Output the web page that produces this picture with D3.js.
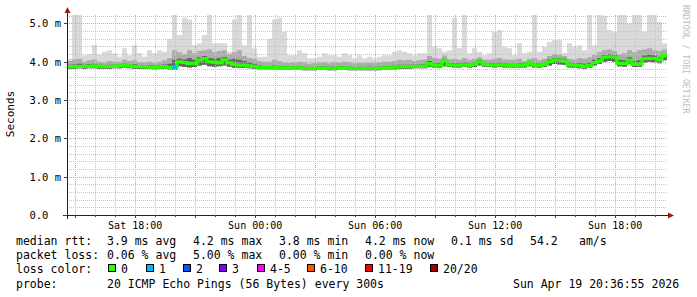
<!DOCTYPE html>
<html><head><meta charset="utf-8">
<script src="https://cdn.jsdelivr.net/npm/d3@7"></script>
<style>
body{margin:0;background:#fff;}
text{font-family:"DejaVu Sans Mono",monospace;}
</style></head>
<body><svg id="c" width="697" height="297"></svg>
<script>
// ---- data (15-minute steps from start time) ----
const startTime = Date.UTC(2026,3,18,14,36,55);
const endTime = Date.UTC(2026,3,19,20,36,55);
const stepMinutes = 15;
// median rtt (ms)
const median = [3.87,3.87,3.88,3.88,3.88,3.89,3.88,3.87,3.87,3.88,
 3.89,3.9,3.89,3.88,3.87,3.87,3.86,3.85,3.86,3.87,
 3.85,3.86,4.0,3.98,3.96,3.96,4.04,4.08,4.0,3.99,
 3.97,4.05,3.97,3.93,3.91,3.91,3.89,3.88,3.85,3.85,
 3.85,3.85,3.84,3.84,3.84,3.84,3.84,3.83,3.83,3.83,
 3.84,3.84,3.83,3.83,3.84,3.84,3.83,3.83,3.83,3.83,
 3.83,3.83,3.83,3.84,3.84,3.86,3.87,3.87,3.87,3.88,
 3.88,3.88,3.95,3.91,3.9,4.03,3.92,3.91,3.91,3.92,
 3.91,3.93,4.0,3.93,3.92,3.91,3.92,3.91,3.9,3.9,
 3.91,3.91,3.95,3.91,3.9,3.93,4.0,4.04,4.04,4.02,
 3.92,3.91,3.9,3.88,3.9,3.98,4.02,4.12,4.13,4.12,
 3.96,3.95,4.04,3.93,3.94,4.08,4.09,4.09,4.05,4.16];
// lost pings (of 20) per step
const loss = [0,0,0,0,0,0,0,0,0,0, 0,0,0,0,0,0,0,0,0,0,
 0,1,0,0,0,0,0,0,0,0, 0,0,0,0,0,0,0,0,0,0,
 0,0,0,0,0,0,0,0,0,0, 0,0,0,0,0,0,0,0,0,0,
 0,0,0,0,0,0,0,0,0,0, 0,0,0,0,0,0,0,0,0,0,
 0,0,0,0,0,0,0,0,0,0, 0,0,0,0,0,0,0,0,0,0,
 0,0,0,0,0,0,0,0,0,0, 0,0,0,0,0,0,0,0,0,0];
// smoke: max rtt
const smokeMax = [4.08,5.3,5.3,4.17,4.2,4.44,4.18,4.26,4.3,4.22,
 4.13,4.35,4.17,4.43,4.22,4.13,4.3,4.22,4.3,4.26,
 4.6,5.3,4.7,5.15,5.1,4.43,4.48,4.7,5.3,4.48,
 4.48,4.48,4.26,5.1,5.3,4.43,5.3,4.35,4.13,4.13,
 4.6,5.1,5.15,4.78,4.17,4.17,4.3,4.22,4.09,4.09,
 4.13,4.22,4.17,4.17,4.13,4.22,4.17,4.09,4.17,4.09,
 4.13,4.09,4.13,4.17,4.17,4.26,4.3,4.26,4.22,4.17,
 4.22,4.22,5.3,4.39,4.35,4.26,4.3,5.15,4.35,5.3,
 4.22,4.35,4.26,4.17,4.22,4.78,4.83,4.39,4.35,4.17,
 4.48,4.22,4.26,5.3,4.26,4.39,4.52,4.57,4.57,4.22,
 4.48,4.39,4.43,4.3,5.3,4.43,5.25,5.2,4.83,4.78,
 5.3,5.3,5.0,5.3,5.3,4.78,5.3,5.25,5.04,4.48];
// smoke: upper of medium band
const smokeMid = [4.02,4.06,4.08,4.0,4.04,4.06,4.0,3.98,4.02,4.0,
 4.0,4.06,4.02,4.04,3.98,3.98,4.0,3.97,4.0,4.04,
 4.1,4.3,4.25,4.2,4.3,4.22,4.28,4.3,4.32,4.25,
 4.28,4.3,4.2,4.25,4.3,4.15,4.1,4.08,4.02,4.0,
 4.0,4.05,4.02,3.98,3.97,3.98,4.0,3.98,3.95,3.96,
 3.98,3.99,3.96,3.98,3.97,4.0,3.98,3.96,3.97,3.96,
 3.97,3.96,3.98,4.0,4.0,4.02,4.05,4.04,4.05,4.02,
 4.04,4.06,4.15,4.1,4.08,4.16,4.06,4.08,4.05,4.1,
 4.05,4.08,4.12,4.06,4.05,4.08,4.1,4.06,4.05,4.05,
 4.08,4.02,4.08,4.1,4.04,4.08,4.15,4.2,4.18,4.15,
 4.08,4.06,4.1,4.08,4.12,4.18,4.25,4.3,4.32,4.28,
 4.2,4.22,4.3,4.25,4.3,4.32,4.35,4.3,4.28,4.32];
// smoke: upper of dark core
const smokeCore = [3.92,3.93,3.95,3.92,3.94,3.95,3.92,3.91,3.92,3.92,
 3.93,3.95,3.93,3.94,3.91,3.91,3.91,3.9,3.91,3.93,
 3.95,4.05,4.08,4.06,4.1,4.05,4.12,4.15,4.1,4.08,
 4.1,4.12,4.06,4.08,4.05,4.02,3.98,3.95,3.9,3.89,
 3.89,3.9,3.88,3.88,3.87,3.88,3.88,3.87,3.86,3.86,
 3.88,3.88,3.87,3.87,3.88,3.88,3.87,3.86,3.87,3.86,
 3.87,3.86,3.87,3.88,3.88,3.9,3.92,3.92,3.92,3.92,
 3.93,3.93,4.02,3.97,3.96,4.08,3.97,3.97,3.96,3.98,
 3.96,3.98,4.05,3.98,3.97,3.97,3.98,3.96,3.95,3.95,
 3.96,3.96,4.0,3.97,3.95,3.98,4.06,4.1,4.1,4.08,
 3.98,3.97,3.96,3.95,3.97,4.05,4.1,4.18,4.2,4.18,
 4.05,4.04,4.12,4.02,4.04,4.16,4.18,4.17,4.12,4.2];
// smoke: min rtt
const smokeMin = [3.82,3.82,3.83,3.82,3.83,3.83,3.82,3.82,3.82,3.83,
 3.83,3.84,3.83,3.82,3.82,3.82,3.81,3.8,3.81,3.82,
 3.8,3.79,3.88,3.86,3.85,3.86,3.9,3.92,3.88,3.87,
 3.88,3.9,3.87,3.84,3.84,3.84,3.83,3.82,3.8,3.8,
 3.8,3.8,3.79,3.79,3.79,3.79,3.79,3.78,3.78,3.78,
 3.79,3.79,3.78,3.78,3.79,3.79,3.78,3.78,3.78,3.78,
 3.78,3.78,3.78,3.79,3.79,3.8,3.82,3.82,3.82,3.83,
 3.83,3.83,3.86,3.85,3.84,3.88,3.86,3.85,3.85,3.86,
 3.85,3.86,3.9,3.87,3.86,3.85,3.86,3.85,3.85,3.84,
 3.85,3.85,3.88,3.85,3.84,3.86,3.9,3.94,3.93,3.92,
 3.85,3.84,3.83,3.82,3.84,3.9,3.94,4.0,4.02,4.0,
 3.88,3.87,3.95,3.86,3.87,3.98,4.0,3.99,3.96,4.04];

const yTicks = [0,1,2,3,4,5];
const yTickLabels = ["0.0  ","1.0 m","2.0 m","3.0 m","4.0 m","5.0 m"];
const xTickTimes = [Date.UTC(2026,3,18,18), Date.UTC(2026,3,19,0), Date.UTC(2026,3,19,6), Date.UTC(2026,3,19,12), Date.UTC(2026,3,19,18)];
const xTickLabels = ["Sat 18:00","Sun 00:00","Sun 06:00","Sun 12:00","Sun 18:00"];

const lossLevels = ["0","1","2","3","4-5","6-10","11-19","20/20"];
const lossColors = ["#26ff00","#00b8ff","#0059ff","#7e00ff","#ff00ff","#ff5500","#ff0000","#a00000"];
const lossMaxOf = [0,1,2,3,5,10,19,20];

const statsRtt = ["3.9 ms avg","4.2 ms max","3.8 ms min","4.2 ms now","0.1 ms sd","54.2","am/s"];
const statsLoss = ["0.06 % avg","5.00 % max","0.00 % min","0.00 % now"];
const probeText = "20 ICMP Echo Pings (56 Bytes) every 300s";
const dateText = "Sun Apr 19 20:36:55 2026";

// ---- chart ----
const svg = d3.select("#c");
const L=67, R=667, T=15, B=215;
const x = d3.scaleUtc().domain([startTime,endTime]).range([L,R]);
const y = d3.scaleLinear().domain([0,5.22]).range([B,T]);

const data = median.map((m,i)=>({t:startTime+i*stepMinutes*60000, med:m, loss:loss[i],
  max:smokeMax[i], mid:smokeMid[i], core:smokeCore[i], min:smokeMin[i]}));
const last = data[data.length-1];
const dataExt = data.concat([Object.assign({}, last, {t:endTime})]);

svg.append("defs").append("clipPath").attr("id","pc").append("rect")
  .attr("x",L).attr("y",T).attr("width",R-L).attr("height",B-T);
const plot = svg.append("g").attr("clip-path","url(#pc)");

const band = (lo,hi)=>d3.area().curve(d3.curveStepAfter).x(d=>x(d.t)).y0(d=>y(d[lo])).y1(d=>y(d[hi]));
plot.append("path").datum(dataExt).attr("d",band("min","max")).attr("fill","#d9d9d9");
plot.append("path").datum(dataExt).attr("d",band("min","mid")).attr("fill","#acacac");
plot.append("path").datum(dataExt).attr("d",band("min","core")).attr("fill","#666666");

// grid
const grid = svg.append("g").attr("shape-rendering","crispEdges");
const hours = d3.utcHour.range(new Date(startTime), new Date(endTime));
hours.forEach(h=>{
  const major = h.getUTCHours()%3===0;
  const xx = Math.round(x(h))+0.5;
  grid.append("line").attr("x1",xx).attr("x2",xx).attr("y1",T).attr("y2",B)
    .attr("stroke",major?"#e39a9a":"#c4c4c4").attr("stroke-dasharray","1,1");
});
d3.range(1,27).forEach(k=>{
  const v=k*0.2; const major = k%5===0;
  const yy = Math.round(y(v))+0.5;
  grid.append("line").attr("x1",L).attr("x2",R).attr("y1",yy).attr("y2",yy)
    .attr("stroke",major?"#e39a9a":"#c4c4c4").attr("stroke-dasharray","1,1");
});

// median line
const line = d3.line().curve(d3.curveStepAfter).x(d=>x(d.t)).y(d=>y(d.med));
svg.append("path").datum(dataExt).attr("d",line).attr("fill","none")
  .attr("stroke",lossColors[0]).attr("stroke-width",3.2);
data.forEach((d,i)=>{
  if(d.loss>0){
    const ci = lossMaxOf.findIndex(m=>d.loss<=m);
    svg.append("path").datum([d,dataExt[i+1]]).attr("d",d3.line().x(p=>x(p.t)).y(()=>y(d.med)))
      .attr("stroke",lossColors[ci]).attr("stroke-width",3.2).attr("fill","none");
  }
});

// axes
const ax = svg.append("g").attr("shape-rendering","crispEdges");
ax.append("line").attr("x1",63).attr("x2",668).attr("y1",B+0.5).attr("y2",B+0.5).attr("stroke","#222");
ax.append("line").attr("x1",L+0.5).attr("x2",L+0.5).attr("y1",219).attr("y2",12).attr("stroke","#222");
svg.append("path").attr("d",`M668,${B-2.5}L674,${B+0.5}L668,${B+3.5}Z`).attr("fill","#9b1c1c");
svg.append("path").attr("d",`M${L-2.5},13L${L+0.5},7L${L+3.5},13Z`).attr("fill","#9b1c1c");
hours.forEach(h=>{
  const major = h.getUTCHours()%3===0;
  const xx = Math.round(x(h))+0.5;
  ax.append("line").attr("x1",xx).attr("x2",xx).attr("y1",B).attr("y2",B+(major?3:2)).attr("stroke","#444");
});
yTicks.forEach(v=>{
  ax.append("line").attr("x1",L-3).attr("x2",L).attr("y1",Math.round(y(v))+0.5).attr("y2",Math.round(y(v))+0.5).attr("stroke","#444");
});

const xAxis = d3.axisBottom(x).tickValues(xTickTimes).tickSize(0).tickFormat((d,i)=>xTickLabels[i]);
const gx = svg.append("g").attr("transform",`translate(0,${B+4})`).call(xAxis);
gx.select(".domain").remove();
gx.selectAll("text").attr("font-family","DejaVu Sans Mono").attr("font-size","10px").attr("fill","#000").attr("dy","0.71em");

const yAxis = d3.axisLeft(y).tickValues(yTicks).tickSize(0).tickPadding(6).tickFormat((d,i)=>yTickLabels[i]);
const gy = svg.append("g").attr("transform",`translate(${L},0)`).call(yAxis);
gy.select(".domain").remove();
gy.selectAll("text").attr("font-family","DejaVu Sans Mono").attr("font-size","10.5px").attr("fill","#000")
  .attr("xml:space","preserve").style("white-space","pre");

svg.append("text").attr("transform","translate(14,114) rotate(-90)").attr("text-anchor","middle")
  .attr("font-size","11px").attr("fill","#000").text("Seconds");
svg.append("text").attr("transform","translate(683,5) rotate(90)").attr("text-anchor","start")
  .attr("font-size","8.2px").attr("fill","#bdbdbd").text("RRDTOOL / TOBI OETIKER");

// legend
const lg = svg.append("g").attr("font-size","11.5px").attr("fill","#000");
const tx = (xx,yy,s)=>lg.append("text").attr("x",xx).attr("y",yy).style("white-space","pre").text(s);
tx(16,245,"median rtt:");
[107,193,279,365,451,530,579].forEach((xx,i)=>tx(xx,245,statsRtt[i]));
tx(16,259,"packet loss:");
[107,193,279,365].forEach((xx,i)=>tx(xx,259,statsLoss[i]));
tx(16,273,"loss color:");
const boxX=[108,146,183,219,257,307,365,430];
lossLevels.forEach((lab,i)=>{
  lg.append("rect").attr("x",boxX[i]+0.5).attr("y",264.5).attr("width",7).attr("height",7)
    .attr("fill",lossColors[i]).attr("stroke","#000").attr("shape-rendering","crispEdges");
  tx(boxX[i]+13,273,lab);
});
tx(16,288,"probe:");
tx(107,288,probeText);
tx(513,288,dateText);
</script></body></html>
